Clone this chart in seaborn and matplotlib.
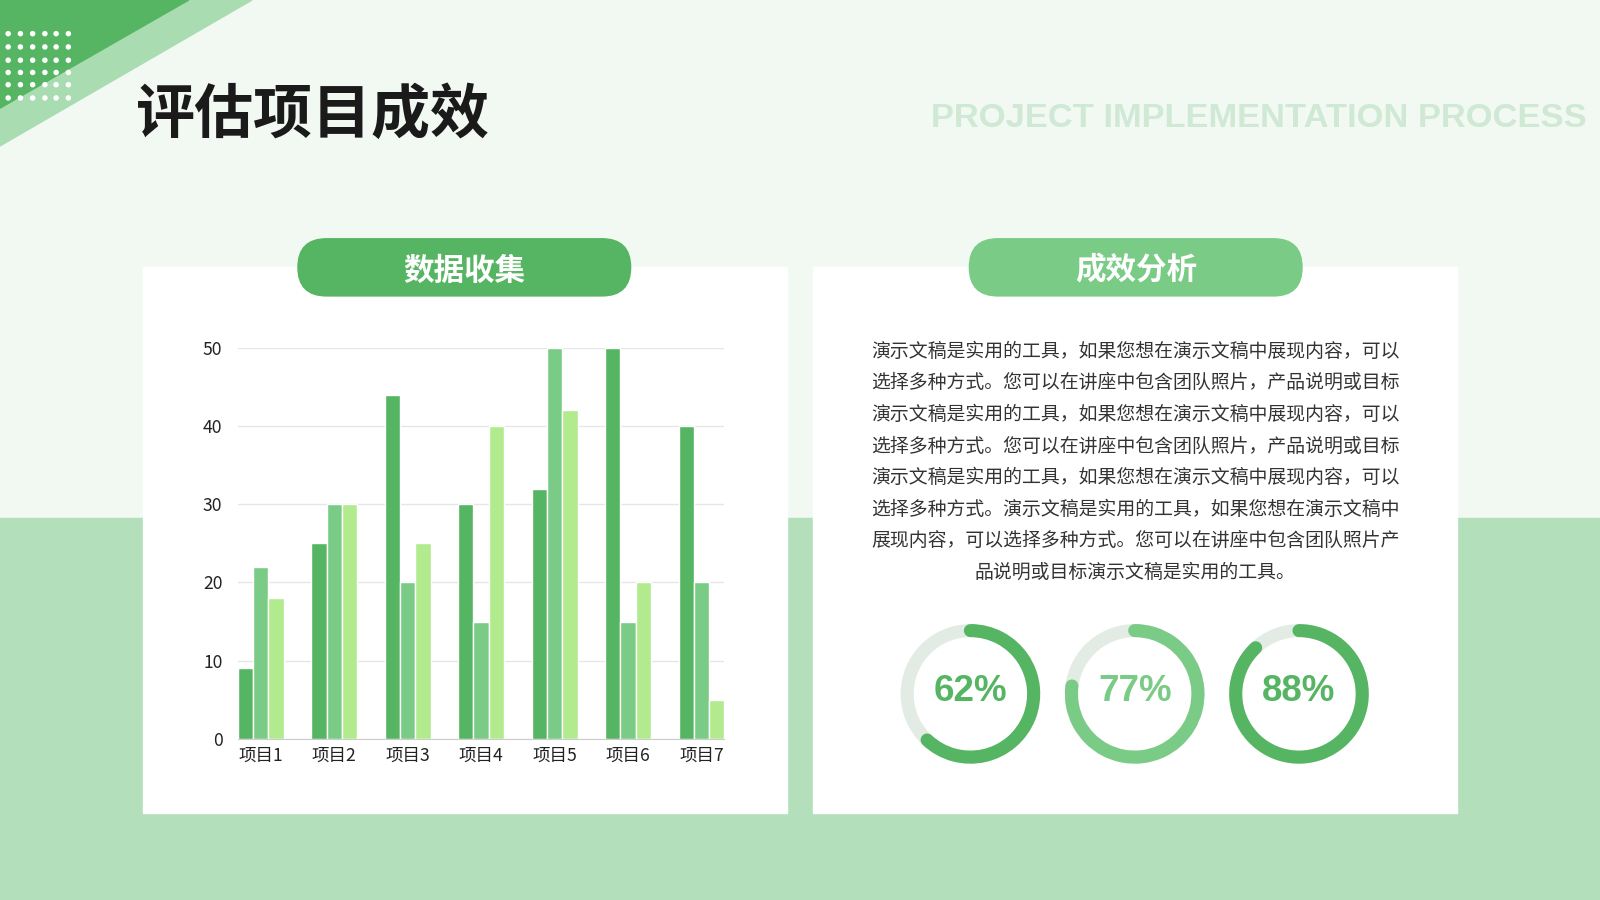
import numpy as np
import pandas as pd
import matplotlib
matplotlib.use('Agg')
import matplotlib.pyplot as plt
import matplotlib.patches as mpatches
import seaborn as sns

# --- data ---
projects = ['项目1', '项目2', '项目3', '项目4', '项目5', '项目6', '项目7']
series_a = [9, 25, 44, 30, 32, 50, 40]
series_b = [22, 30, 20, 15, 50, 15, 20]
series_c = [18, 30, 25, 40, 42, 20, 5]
series_names = ['系列1', '系列2', '系列3']
y_ticks = [0, 10, 20, 30, 40, 50]

percents = [62, 77, 88]

title = '评估项目成效'
watermark = 'PROJECT IMPLEMENTATION PROCESS'
left_head = '数据收集'
right_head = '成效分析'
para_lines = [
    '演示文稿是实用的工具，如果您想在演示文稿中展现内容，可以',
    '选择多种方式。您可以在讲座中包含团队照片，产品说明或目标',
    '演示文稿是实用的工具，如果您想在演示文稿中展现内容，可以',
    '选择多种方式。您可以在讲座中包含团队照片，产品说明或目标',
    '演示文稿是实用的工具，如果您想在演示文稿中展现内容，可以',
    '选择多种方式。演示文稿是实用的工具，如果您想在演示文稿中',
    '展现内容，可以选择多种方式。您可以在讲座中包含团队照片产',
    '品说明或目标演示文稿是实用的工具。',
]

# colours
dark = '#55b562'
mid = '#7acb86'
light = '#b2ea8e'
bar_colors = [dark, mid, light]
ring_colors = [dark, mid, dark]

sns.set_style('white')
plt.rcParams['font.family'] = ['Noto Sans CJK SC', 'DejaVu Sans']

W, H = 1568, 882


def Y(y):
    return H - y


fig = plt.figure(figsize=(16, 9), dpi=100)

# background layer in reference pixel coords
bg = fig.add_axes([0, 0, 1, 1], zorder=0)
bg.set_xlim(0, W)
bg.set_ylim(0, H)
bg.axis('off')

bg.add_patch(mpatches.Rectangle((0, 0), W, H, color='#f2f9f3', zorder=0))
bg.add_patch(mpatches.Rectangle((0, 0), W, Y(508), color='#b3dfba', zorder=0))

# corner decoration
bg.add_patch(mpatches.Polygon([(185, Y(0)), (247, Y(0)), (0, Y(143)), (0, Y(106))],
                              closed=True, color='#a9dcb1', zorder=1))
bg.add_patch(mpatches.Polygon([(0, Y(0)), (185, Y(0)), (0, Y(106))],
                              closed=True, color=dark, zorder=1))
dot_x = [8, 20, 32, 44, 55, 67]
dot_y = [33, 46, 59, 71, 83, 96]
for dx in dot_x:
    for dy in dot_y:
        bg.add_patch(mpatches.Circle((dx, Y(dy)), 2.0, color='white', zorder=2))

bg.text(133, Y(114), title, fontsize=42.5, fontweight='black',
        color='#1a1a1a', ha='left', va='center', zorder=3)
bg.text(912, Y(116), watermark, fontsize=24.8, fontweight='bold',
        family=['Liberation Sans', 'DejaVu Sans'], color='#cfe9d4',
        ha='left', va='center', zorder=3)

# cards
for x0 in [140, 797]:
    bg.add_patch(mpatches.Rectangle((x0, Y(797)), 631, 535, color='white', zorder=2))

# pills
for x0, col, txt in [(292, dark, left_head), (950, mid, right_head)]:
    bg.add_patch(mpatches.FancyBboxPatch((x0, Y(290)), 326, 56,
                                         boxstyle='round,pad=0,rounding_size=28',
                                         color=col, zorder=3))
    bg.text(x0 + 163, Y(265), txt, fontsize=22, fontweight='bold', color='white',
            ha='center', va='center', zorder=4)

# paragraph
for i, line in enumerate(para_lines):
    yy = Y(344 + 31 * i)
    if i == len(para_lines) - 1:
        bg.text(1112, yy, line, fontsize=13.6, color='#333333', ha='center', va='center', zorder=4)
    else:
        bg.text(854, yy, line, fontsize=13.6, color='#333333', ha='left', va='center', zorder=4)

# progress rings
centers = [951, 1112, 1273]
r = 62
for cx, p, col in zip(centers, percents, ring_colors):
    bg.add_patch(mpatches.Circle((cx, Y(680)), r, fill=False, lw=9.4,
                                 edgecolor='#e2ece4', zorder=4))
    arc = mpatches.Arc((cx, Y(680)), 2 * r, 2 * r, theta1=90 - 3.6 * p, theta2=90,
                       lw=9.4, color=col, zorder=5)
    arc.set_capstyle('round')
    bg.add_patch(arc)
    bg.text(cx, Y(678), f'{p}%', fontsize=26.5, fontweight='bold', color=col,
            family=['Liberation Sans', 'DejaVu Sans'], ha='center', va='center', zorder=6)

# bar chart
df = pd.DataFrame({
    '项目': projects * 3,
    '数值': series_a + series_b + series_c,
    '系列': [series_names[0]] * 7 + [series_names[1]] * 7 + [series_names[2]] * 7,
})

ax = fig.add_axes([233 / W, 1 - 724 / H, (710 - 233) / W, (724 - 341) / H], zorder=2)
ax.set_facecolor('none')
sns.barplot(data=df, x='项目', y='数值', hue='系列', palette=bar_colors, width=0.625,
            saturation=1, edgecolor='white', linewidth=1, legend=False, ax=ax, zorder=3)
ax.set_ylim(0, 50)
ax.set_xlim(-0.3125, 6.3125)
ax.set_yticks(y_ticks)
ax.set_xlabel('')
ax.set_ylabel('')
ax.yaxis.grid(True, color='#e6e6e6', lw=1)
ax.set_axisbelow(True)
for side in ['left', 'right', 'top']:
    ax.spines[side].set_visible(False)
ax.spines['bottom'].set_color('#cccccc')
ax.tick_params(axis='y', length=0, pad=11, labelsize=12.6, labelcolor='#222222')
ax.tick_params(axis='x', length=0, pad=6, labelsize=12.6, labelcolor='#222222')

fig.savefig('out.png', dpi=100)
